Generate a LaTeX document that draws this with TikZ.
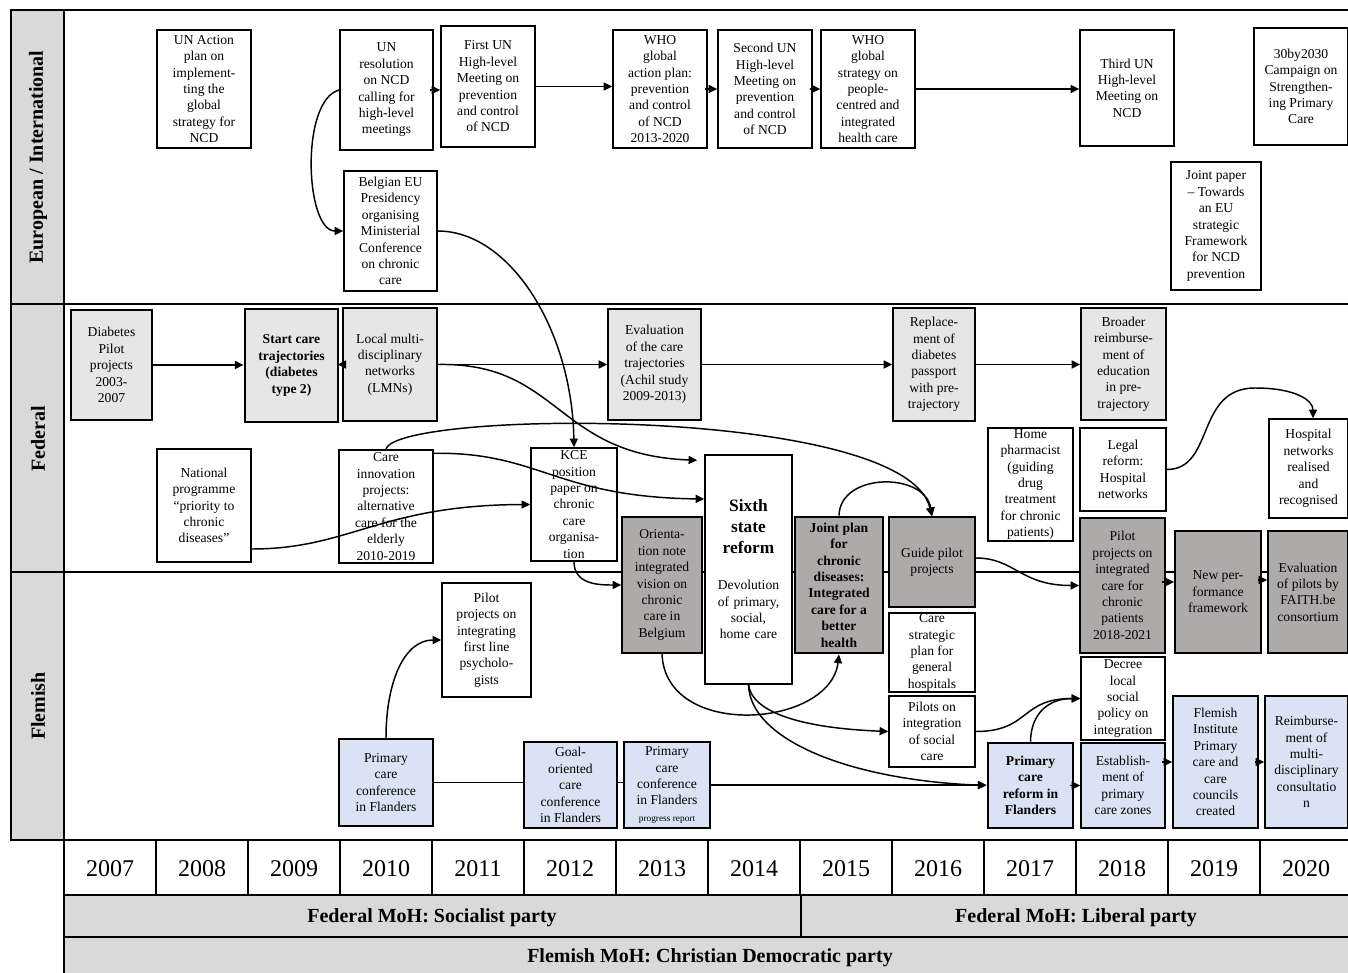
\documentclass[tikz,border=0pt]{standalone}
\usepackage{fontspec}
\setmainfont{Liberation Serif}
\usetikzlibrary{arrows.meta,calc}
\definecolor{lgray}{HTML}{E7E6E6}
\definecolor{dgray}{HTML}{AEAAAA}
\definecolor{lblue}{HTML}{DAE3F3}
\definecolor{hgray}{HTML}{D9D9D9}
\def\pxu{0.75pt}
\begin{document}
\begin{tikzpicture}[x=0.75pt,y=-0.75pt,
 box/.style={draw, line width=1.1pt, align=center, inner sep=0.5pt, font=\fontsize{10.2}{12.3}\selectfont, fill=white},
 sz/.style 2 args={minimum width=#1*\pxu, minimum height=#2*\pxu},
 thk/.style={line width=2.2pt},
 lg/.style={fill=lgray}, dg/.style={fill=dgray}, lb/.style={fill=lblue},
 arr/.style={line width=1.1pt, -{Triangle[length=6.5pt,width=6pt]}},
 ln/.style={line width=1.1pt},
 frame/.style={line width=1.2pt},
 lane/.style={rotate=90, font=\fontsize{15}{18}\selectfont\bfseries},
 yr/.style={font=\fontsize{18}{20}\selectfont},
 moh/.style={font=\fontsize{15}{18}\selectfont\bfseries},
]
\useasboundingbox (0,0) rectangle (1348,973);

% ---------- frame ----------
\fill[hgray] (11,10) rectangle (64,840);
\fill[hgray] (64,895) rectangle (1348,973);
\foreach \a/\b in {10/304,304/572,572/840} \draw[frame] (11,\a) rectangle (64,\b);
\foreach \yy in {10,304,572,840,895,937} \draw[frame] (64,\yy) -- (1348,\yy);
\draw[frame] (64,10) -- (64,973);
\foreach \i in {1,...,13} \draw[frame] ({64+92*\i},840) -- ({64+92*\i},895);
\draw[frame] (801,895) -- (801,937);

\node[lane] (laneEU) at (38,157) {European / International};
\node[lane] (laneFed) at (38,439) {Federal};
\node[lane] (laneFl) at (38,706) {Flemish};

\foreach \i/\yv in {0/2007,1/2008,2/2009,3/2010,4/2011,5/2012,6/2013,7/2014,8/2015,9/2016,10/2017,11/2018,12/2019,13/2020}
  \node[yr] (y\i) at ({110+92*\i},869) {\yv};

\node[moh] (mohS) at (432,918) {Federal MoH: Socialist party};
\node[moh] (mohL) at (1076,918) {Federal MoH: Liberal party};
\node[moh] (mohF) at (710,958) {Flemish MoH: Christian Democratic party};

% ---------- European / International ----------
\node[box,sz={94}{118}] (unact) at (204,89) {UN Action\\plan on\\implement-\\ting the\\global\\strategy for\\NCD};
\node[box,sz={93}{120}] (unres) at (386.5,90) {UN\\resolution\\on NCD\\calling for\\high-level\\meetings};
\node[box,sz={93}{120}] (belg) at (390.5,231) {Belgian EU\\Presidency\\organising\\Ministerial\\Conference\\on chronic\\care};
\node[box,sz={94}{121}] (first) at (488,86.5) {First UN\\High-level\\Meeting on\\prevention\\and control\\of NCD};
\node[box,sz={94}{118}] (whoap) at (660,89) {WHO\\global\\action plan:\\prevention\\and control\\of NCD\\2013-2020};
\node[box,sz={94}{118}] (second) at (765,89) {Second UN\\High-level\\Meeting on\\prevention\\and control\\of NCD};
\node[box,sz={94}{118}] (whost) at (868,89) {WHO\\global\\strategy on\\people-\\centred and\\integrated\\health care};
\node[box,sz={94}{116}] (third) at (1127,88) {Third UN\\High-level\\Meeting on\\NCD};
\node[box,sz={94}{117}] (thirty) at (1301,86.5) {30by2030\\Campaign on\\Strengthen-\\ing Primary\\Care};
\node[box,sz={90}{128}] (jpaper) at (1216,226) {Joint paper\\– Towards\\an EU\\strategic\\Framework\\for NCD\\prevention};

% ---------- Federal ----------
\node[box,lg,sz={81}{110}] (diab) at (111.5,365) {Diabetes\\Pilot\\projects\\2003-\\2007};
\node[box,lg,thk,sz={93}{113}] (start) at (291.5,365.5) {\textbf{Start care}\\\textbf{trajectories}\\\textbf{(diabetes}\\\textbf{type 2)}};
\node[box,lg,sz={94}{113}] (lmn) at (390,364.5) {Local multi-\\disciplinary\\networks\\(LMNs)};
\node[box,lg,sz={93}{111}] (evalc) at (654.5,364.5) {Evaluation\\of the care\\trajectories\\(Achil study\\2009-2013)};
\node[box,lg,sz={82}{113}] (repl) at (934,364.5) {Replace-\\ment of\\diabetes\\passport\\with pre-\\trajectory};
\node[box,lg,sz={85}{112}] (broad) at (1123.5,364) {Broader\\reimburse-\\ment of\\education\\in pre-\\trajectory};
\node[box,sz={94}{113}] (natl) at (204,505.5) {National\\programme\\“priority to\\chronic\\diseases”};
\node[box,sz={94}{113}] (cinnov) at (386,506.5) {Care\\innovation\\projects:\\alternative\\care for the\\elderly\\2010-2019};
\node[box,sz={86}{113}] (kce) at (574,504.5) {KCE\\position\\paper on\\chronic\\care\\organisa-\\tion};
\node[box,sz={87}{229},text width=85*\pxu] (six) at (748.5,569.5) {{\fontsize{13}{15.5}\selectfont\bfseries Sixth\\state\\reform\par}\vspace{15pt}Devolution\\of primary,\\social,\\home care};
\node[box,dg,sz={80}{136}] (orient) at (662,585) {Orienta-\\tion note\\integrated\\vision on\\chronic\\care in\\Belgium};
\node[box,dg,thk,sz={88}{136}] (jplan) at (839,585) {\textbf{Joint plan}\\\textbf{for}\\\textbf{chronic}\\\textbf{diseases:}\\\textbf{Integrated}\\\textbf{care for a}\\\textbf{better}\\\textbf{health}};
\node[box,dg,sz={86}{90}] (guide) at (932,562) {Guide pilot\\projects};
\node[box,sz={85}{113}] (homeph) at (1030.5,484.5) {Home\\pharmacist\\(guiding\\drug\\treatment\\for chronic\\patients)};
\node[box,sz={86}{83}] (legal) at (1123,469.5) {Legal\\reform:\\Hospital\\networks};
\node[box,sz={79}{99}] (hosp) at (1308.5,468.5) {Hospital\\networks\\realised\\and\\recognised};
\node[box,dg,sz={85}{135}] (pilotint) at (1122.5,585.5) {Pilot\\projects on\\integrated\\care for\\chronic\\patients\\2018-2021};
\node[box,dg,sz={86}{122}] (newperf) at (1218,592) {New per-\\formance\\framework};
\node[box,dg,sz={80}{122}] (evalp) at (1308,592) {Evaluation\\of pilots by\\FAITH.be\\consortium};

% ---------- Flemish ----------
\node[box,sz={89}{114}] (psych) at (486.5,640) {Pilot\\projects on\\integrating\\first line\\psycholo-\\gists};
\node[box,lb,sz={94}{87}] (pcc) at (386,782.5) {Primary\\care\\conference\\in Flanders};
\node[box,lb,sz={93}{86}] (goal) at (570.5,785) {Goal-\\oriented\\care\\conference\\in Flanders};
\node[box,lb,sz={86}{86}] (pccp) at (667,785) {Primary\\care\\conference\\in Flanders\\{\fontsize{7}{8}\selectfont progress report}};
\node[box,sz={86}{79}] (cstrat) at (932,652.5) {Care\\strategic\\plan for\\general\\hospitals};
\node[box,sz={86}{71}] (pilsoc) at (932,731.5) {Pilots on\\integration\\of social\\care};
\node[box,lb,thk,sz={85}{85}] (pcr) at (1030.5,785.5) {\textbf{Primary}\\\textbf{care}\\\textbf{reform in}\\\textbf{Flanders}};
\node[box,lb,sz={84}{85}] (estab) at (1123,785.5) {Establish-\\ment of\\primary\\care zones};
\node[box,sz={84}{83}] (decree) at (1123,698.5) {Decree\\local\\social\\policy on\\integration};
\node[box,lb,sz={85}{132}] (flinst) at (1215.5,762) {Flemish\\Institute\\Primary\\care and\\care\\councils\\created};
\node[box,lb,sz={83}{132}] (reimb) at (1306.5,762) {Reimburse-\\ment of\\multi-\\disciplinary\\consultatio\\n};

% ---------- connectors: European ----------
\draw[arr] (unres.west) .. controls (300,100) and (305,231) .. (belg.west);
\draw[arr] ($(unres.east)+(-4,0)$) -- (unres.east -| first.west);
\draw[arr] (first.east) -- (first.east -| whoap.west);
\draw[arr] ($(whoap.east)+(-3,0)$) -- (second.west);
\draw[arr] ($(second.east)+(-3,0)$) -- (whost.west);
\draw[arr] (whost.east) -- (whost.east -| third.west);
\draw[arr] (belg.east) .. controls (510,231) and (572,330) .. (kce.north);

% ---------- connectors: Federal ----------
\draw[arr] (diab.east) -- (diab.east -| start.west);
\draw[arr] ($(lmn.west)+(3,0)$) -- ($(lmn.west -| start.east)+(-2,0)$);
\draw[arr] (lmn.east) -- (lmn.east -| evalc.west);
\draw[arr] (evalc.east) -- (evalc.east -| repl.west);
\draw[arr] (repl.east) -- (repl.east -| broad.west);
\draw[arr] (lmn.east) .. controls (560,362) and (555,455) .. ($(six.north west)+(-7,6)$);
\draw[arr] ($(natl.east)+(0,43.5)$) .. controls (350,549) and (380,505) .. (kce.west);
\draw[arr] (cinnov.north) .. controls (395,410) and (905,405) .. (guide.north);
\draw[arr] ($(cinnov.north east)+(0,4)$) .. controls (540,452) and (555,497) .. ($(six.west)+(0,-70.5)$);
\draw[arr] (jplan.north) .. controls (840,472) and (925,472) .. (guide.north);
\draw[arr] (kce.south) .. controls (574,585) and (600,585) .. (orient.west);
\draw[arr] ($(guide.east)+(0,-4)$) .. controls (1015,558) and (1020,585.5) .. (pilotint.west);
\draw[arr] ($(pilotint.east)+(-4,-3.5)$) -- ($(newperf.west)+(0,-10)$);
\draw[arr] ($(newperf.east)+(-4,-12)$) -- ($(evalp.west)+(0,-12)$);
\draw[arr] (legal.east) .. controls (1215,469.5) and (1195,388) .. (1255,388) .. controls (1295,388) and (1313,400) .. ($(hosp.north)+(4.5,0)$);

% ---------- connectors: Flemish ----------
\draw[arr] (pcc.north) .. controls (386,680) and (405,640) .. (psych.west);
\draw[ln] (pcc.east) -- (pcc.east -| goal.west);
\draw[ln] (goal.east |- pcc.east) -- (pcc.east -| pccp.west);
\draw[arr] (pccp.east) -- (pccp.east -| pcr.west);
\draw[arr] (orient.south) .. controls (665,740) and (830,728) .. (jplan.south);
\draw[arr] (six.south) .. controls (752,712) and (800,728) .. (pilsoc.west);
\draw[arr] (six.south) .. controls (750,740) and (850,780) .. (pcr.west);
\draw[arr] ($(pcr.east)+(-4,0)$) -- (estab.west);
\draw[arr] ($(estab.east)+(-4,-23.5)$) -- (flinst.west);
\draw[arr] ($(flinst.east)+(-4,0)$) -- (reimb.west);
\draw[arr] (pilsoc.east) .. controls (1030,731.5) and (1020,698.5) .. (decree.west);
\draw[arr] (pcr.north) .. controls (1031,712) and (1050,698.5) .. (decree.west);
\end{tikzpicture}
\end{document}
